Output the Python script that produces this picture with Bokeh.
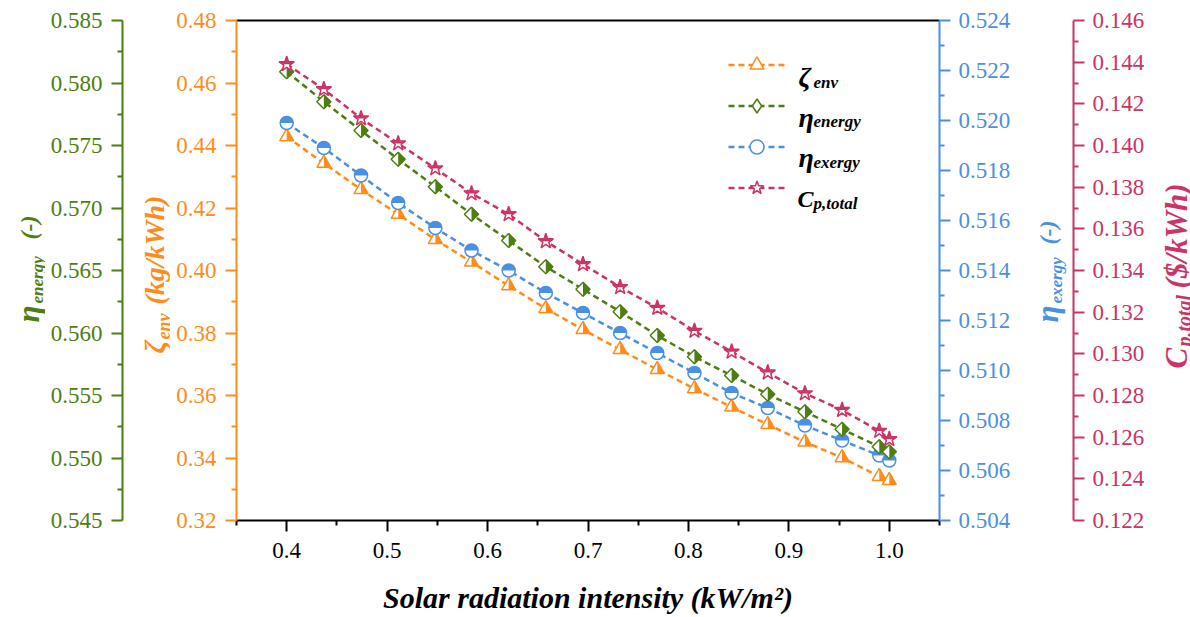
import numpy as np
from bokeh.plotting import figure
from bokeh.layouts import row
from bokeh.models import (Range1d, LinearAxis, FixedTicker, PrintfTickFormatter,
                          Label, Legend, LegendItem)
from bokeh.embed import file_html
from bokeh.resources import INLINE

# Solar radiation intensity (kW/m2)
intensity = [0.400, 0.437, 0.474, 0.511, 0.548, 0.584, 0.621, 0.658, 0.695,
             0.732, 0.769, 0.806, 0.843, 0.879, 0.916, 0.953, 0.990, 1.000]
# Environmental index (kg/kWh)
zeta_env = [0.4428, 0.4343, 0.4259, 0.4180, 0.4099, 0.4027, 0.3951, 0.3878, 0.3811,
            0.3747, 0.3683, 0.3622, 0.3563, 0.3507, 0.3451, 0.3401, 0.3341, 0.3328]
# Energy efficiency (-)
eta_energy = [0.5809, 0.5785, 0.5762, 0.5739, 0.5717, 0.5695, 0.5674, 0.5653, 0.5635,
              0.5617, 0.5598, 0.5581, 0.5566, 0.5551, 0.5537, 0.5523, 0.5509, 0.5505]
# Exergy efficiency (-)
eta_exergy = [0.5199, 0.5189, 0.5178, 0.5167, 0.5157, 0.5148, 0.5140, 0.5131, 0.5123,
              0.5115, 0.5107, 0.5099, 0.5091, 0.5085, 0.5078, 0.5072, 0.5066, 0.5064]
# Total product cost ($/kWh)
cp_total = [0.1439, 0.1427, 0.1413, 0.1401, 0.1389, 0.1377, 0.1367, 0.1354, 0.1343,
            0.1332, 0.1322, 0.1311, 0.1301, 0.1291, 0.1281, 0.1273, 0.1263, 0.1259]

x_ticks = [0.4, 0.5, 0.6, 0.7, 0.8, 0.9, 1.0]
x_minor_ticks = [0.35, 0.45, 0.55, 0.65, 0.75, 0.85, 0.95, 1.05]
zeta_ticks = [0.32, 0.34, 0.36, 0.38, 0.40, 0.42, 0.44, 0.46, 0.48]
zeta_minor_ticks = [0.33, 0.35, 0.37, 0.39, 0.41, 0.43, 0.45, 0.47]
energy_ticks = [0.545, 0.550, 0.555, 0.560, 0.565, 0.570, 0.575, 0.580, 0.585]
energy_minor_ticks = [0.5475, 0.5525, 0.5575, 0.5625, 0.5675, 0.5725, 0.5775, 0.5825]
exergy_ticks = [0.504, 0.506, 0.508, 0.510, 0.512, 0.514, 0.516, 0.518, 0.520, 0.522, 0.524]
exergy_minor_ticks = [0.505, 0.507, 0.509, 0.511, 0.513, 0.515, 0.517, 0.519, 0.521, 0.523]
cost_ticks = [0.122, 0.124, 0.126, 0.128, 0.130, 0.132, 0.134, 0.136, 0.138, 0.140,
              0.142, 0.144, 0.146]
cost_minor_ticks = [0.123, 0.125, 0.127, 0.129, 0.131, 0.133, 0.135, 0.137, 0.139,
                    0.141, 0.143, 0.145]

ORANGE = "#FF8C1A"
GREEN = "#4E7D12"
BLUE = "#4A90E2"
PINK = "#CC3366"
SERIF = "Liberation Serif"

H = 617
TOP, BOTTOM = 20, 97
FRAME_BOTTOM = H - BOTTOM
FH = H - TOP - BOTTOM

x_rng = Range1d(0.35, 1.05)
zeta_rng = Range1d(0.32, 0.48)
energy_rng = Range1d(0.545, 0.585)
exergy_rng = Range1d(0.504, 0.524)
cost_rng = Range1d(0.122, 0.146)


def clean(f):
    for g in f.grid:
        g.visible = False
    f.outline_line_color = None
    f.background_fill_color = "white"
    f.border_fill_color = "white"
    return f


def style_axis(ax, color, ticks, minor, fmt, standoff):
    ax.ticker = FixedTicker(ticks=ticks, minor_ticks=minor)
    ax.formatter = PrintfTickFormatter(format=fmt)
    ax.axis_line_color = color
    ax.axis_line_width = 2
    ax.major_tick_line_color = color
    ax.major_tick_line_width = 2
    ax.minor_tick_line_color = color
    ax.minor_tick_line_width = 2
    ax.major_tick_in = 0
    ax.major_tick_out = 11
    ax.minor_tick_in = 0
    ax.minor_tick_out = 5
    ax.major_label_text_font = SERIF
    ax.major_label_text_font_style = "normal"
    ax.major_label_text_font_size = "23px"
    ax.major_label_text_color = color
    ax.major_label_standoff = standoff


def strip(width, y_rng, min_left, min_right, y_loc):
    """A narrow figure sharing the vertical layout of the main plot."""
    f = figure(width=width, height=H, output_backend="svg", toolbar_location=None,
               x_range=Range1d(0, 1), y_range=y_rng,
               x_axis_location=None, y_axis_location=y_loc,
               min_border_left=min_left, min_border_right=min_right,
               min_border_top=TOP, min_border_bottom=BOTTOM)
    return clean(f)


def put(fig, frame_left, text, cx, cy, size, color, angle=0.0):
    """Place a text piece with its baseline start at page pixel (cx, cy)."""
    fig.add_layout(Label(x=cx - frame_left, y=FRAME_BOTTOM - cy, x_units="screen",
                         y_units="screen", text=text, angle=angle,
                         text_font=SERIF, text_font_style="bold italic",
                         text_font_size=f"{size}px", text_color=color,
                         text_align="left", text_baseline="alphabetic"))


UP = np.pi / 2

# ---- far left: energy efficiency title
L0_W = 45
f_l0 = strip(L0_W, zeta_rng, 0, 0, None)
put(f_l0, 0, "\u03b7", 28, 322, 31, GREEN, UP)
put(f_l0, 0, "energy", 37, 303, 17, GREEN, UP)
put(f_l0, 0, "(-)", 28, 239, 24, GREEN, UP)

# ---- energy axis, then the zeta title
L1_FRAME = 122
MAIN_LEFT = 170
f_l1 = strip(MAIN_LEFT - L0_W, energy_rng, L1_FRAME - L0_W, 0, "left")
style_axis(f_l1.yaxis[0], GREEN, energy_ticks, energy_minor_ticks, "%.3f", 9)
put(f_l1, L1_FRAME, "\u03b6", 154, 353, 30, ORANGE, UP)
put(f_l1, L1_FRAME, "env", 163, 339, 18, ORANGE, UP)
put(f_l1, L1_FRAME, "(kg/kWh)", 154, 304, 28, ORANGE, UP)

# ---- main plot
FL, FR = 236, 939
FW = FR - FL
R1_LEFT = 1020
MAIN_W = R1_LEFT - MAIN_LEFT
p = figure(width=MAIN_W, height=H, output_backend="svg", toolbar_location=None,
           x_range=x_rng, y_range=zeta_rng,
           min_border_left=FL - MAIN_LEFT, min_border_right=R1_LEFT - FR,
           min_border_top=TOP, min_border_bottom=BOTTOM)
p.extra_y_ranges = {"energy": energy_rng, "exergy": exergy_rng, "cost": cost_rng}
clean(p)

xax = p.xaxis[0]
style_axis(xax, "black", x_ticks, x_minor_ticks, "%.1f", 11)
xax.axis_label = "Solar radiation intensity (kW/m\u00b2)"
xax.axis_label_text_font = SERIF
xax.axis_label_text_font_style = "bold italic"
xax.axis_label_text_font_size = "30px"
xax.axis_label_text_color = "black"
xax.axis_label_standoff = 20

top_ax = LinearAxis(ticker=FixedTicker(ticks=[]), axis_line_color="black",
                    axis_line_width=2, major_tick_out=0, minor_tick_out=0,
                    major_tick_line_color=None, minor_tick_line_color=None)
p.add_layout(top_ax, "above")

style_axis(p.yaxis[0], ORANGE, zeta_ticks, zeta_minor_ticks, "%.2f", 9)

xeax = LinearAxis(y_range_name="exergy")
style_axis(xeax, BLUE, exergy_ticks, exergy_minor_ticks, "%.3f", 8)
p.add_layout(xeax, "right")

# pixel -> data conversions for the half-filled marker parts
x = np.array(intensity)
dx_px = (x_rng.end - x_rng.start) / FW


def dy_px(rng):
    return (rng.end - rng.start) / FH


DASH = "6 4"
LW = 2.5

# zeta_env: triangles, right half filled
l_zeta = p.line(intensity, zeta_env, line_color=ORANGE, line_width=LW, line_dash=DASH)
m_zeta = p.scatter(intensity, zeta_env, marker="triangle", size=14, line_color=ORANGE,
                   line_width=1.5, fill_color="white")
r_t = 7.0
h_t = r_t * np.sqrt(3)
yz = np.array(zeta_env)
dyz = dy_px(zeta_rng)
p.patches([[xi, xi, xi + r_t * dx_px] for xi in x],
          [[yi + 2 * h_t / 3 * dyz, yi - h_t / 3 * dyz, yi - h_t / 3 * dyz] for yi in yz],
          fill_color=ORANGE, line_color=None)

# eta_exergy: circles, upper half filled
l_ex = p.line(intensity, eta_exergy, line_color=BLUE, line_width=LW, line_dash=DASH,
              y_range_name="exergy")
m_ex = p.scatter(intensity, eta_exergy, marker="circle", size=13, line_color=BLUE,
                 line_width=1.5, fill_color="white", y_range_name="exergy")
p.wedge(intensity, eta_exergy, radius=6.5, radius_units="screen", start_angle=0,
        end_angle=np.pi, fill_color=BLUE, line_color=None, y_range_name="exergy")

# eta_energy: diamonds (rotated squares), right half filled
l_en = p.line(intensity, eta_energy, line_color=GREEN, line_width=LW, line_dash=DASH,
              y_range_name="energy")
m_en_key = p.scatter(intensity, eta_energy, marker="diamond", size=13, line_color=GREEN,
                     line_width=1.5, fill_color="white", y_range_name="energy")
p.scatter(intensity, eta_energy, marker="square", angle=np.pi / 4, size=10,
          line_color=GREEN, line_width=1.5, fill_color="white", y_range_name="energy")
r_d = 5 * np.sqrt(2)
ye = np.array(eta_energy)
dye = dy_px(energy_rng)
p.patches([[xi, xi + r_d * dx_px, xi] for xi in x],
          [[yi + r_d * dye, yi, yi - r_d * dye] for yi in ye],
          fill_color=GREEN, line_color=None, y_range_name="energy")

# cp_total: stars, upper half filled
l_c = p.line(intensity, cp_total, line_color=PINK, line_width=LW, line_dash=DASH,
             y_range_name="cost")
m_c = p.scatter(intensity, cp_total, marker="star", size=16, line_color=PINK,
                line_width=1.5, fill_color="white", y_range_name="cost")


def star_upper_half(R, ratio=0.38):
    """Upper half of a five-point star outline, in pixels (y up)."""
    pts = []
    for k in range(10):
        a = np.pi / 2 + k * np.pi / 5
        rad = R if k % 2 == 0 else R * ratio
        pts.append((rad * np.cos(a), rad * np.sin(a)))
    out = []
    for i in range(len(pts)):
        (x1, y1), (x2, y2) = pts[i], pts[(i + 1) % len(pts)]
        if y1 >= 0:
            out.append((x1, y1))
        if (y1 >= 0) != (y2 >= 0):
            t = y1 / (y1 - y2)
            out.append((x1 + t * (x2 - x1), 0.0))
    return out


half_star = star_upper_half(8 * 0.9)
yc = np.array(cp_total)
dyc = dy_px(cost_rng)
p.patches([[xi + sx * dx_px for sx, sy in half_star] for xi in x],
          [[yi + sy * dyc for sx, sy in half_star] for yi in yc],
          fill_color=PINK, line_color=None, y_range_name="cost")

legend = Legend(items=[LegendItem(label=" ", renderers=[l_zeta, m_zeta]),
                       LegendItem(label=" ", renderers=[l_en, m_en_key]),
                       LegendItem(label=" ", renderers=[l_ex, m_ex]),
                       LegendItem(label=" ", renderers=[l_c, m_c])],
                location=(492, 315), orientation="vertical",
                glyph_width=57, glyph_height=35, spacing=6, padding=0, margin=0,
                label_standoff=0, label_text_font_size="1px", label_width=0,
                label_height=0, border_line_color=None, background_fill_alpha=0)
p.add_layout(legend)

# legend texts
put(p, FL, "\u03b6", 798, 76, 28, "black")
put(p, FL, "env", 813, 82, 17, "black")
put(p, FL, "\u03b7", 798, 117, 28, "black")
put(p, FL, "energy", 813, 121, 17, "black")
put(p, FL, "\u03b7", 798, 157, 28, "black")
put(p, FL, "exergy", 813, 162, 17, "black")
put(p, FL, "C", 797, 198, 24, "black")
put(p, FL, "p,total", 813, 203, 17, "black")

# ---- exergy title, then the cost axis
R1_FRAME_W = 53
R1_W = 130
f_r1 = strip(R1_W, cost_rng, 0, R1_W - R1_FRAME_W, "right")
style_axis(f_r1.yaxis[0], PINK, cost_ticks, cost_minor_ticks, "%.3f", 8)
put(f_r1, R1_LEFT, "\u03b7", 1047, 322, 31, BLUE, UP)
put(f_r1, R1_LEFT, "exergy", 1056, 303, 17, BLUE, UP)
put(f_r1, R1_LEFT, "(-)", 1047, 244, 24, BLUE, UP)

# ---- far right: cost title
R2_LEFT = R1_LEFT + R1_W
f_r2 = strip(1190 - R2_LEFT, cost_rng, 0, 0, None)
put(f_r2, R2_LEFT, "C", 1176, 368, 31, PINK, UP)
put(f_r2, R2_LEFT, "p,total", 1183, 346, 20, PINK, UP)
put(f_r2, R2_LEFT, "($/kWh)", 1176, 288, 31, PINK, UP)

layout = row(f_l0, f_l1, p, f_r1, f_r2, spacing=0)
open("out.html", "w").write(file_html(layout, INLINE))
